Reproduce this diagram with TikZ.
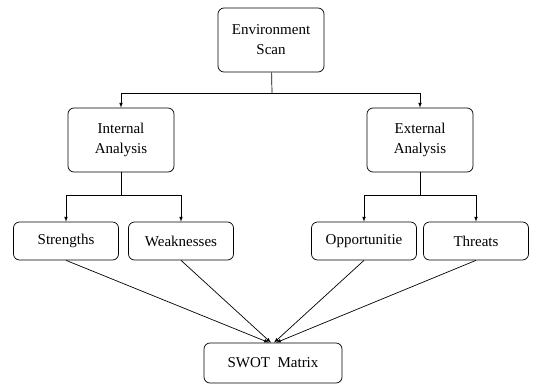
\documentclass[tikz,border=0pt]{standalone}
\usepackage{fontspec}
\setmainfont{Liberation Serif}
\newfontfamily\boxfont{Liberation Serif}
\tikzset{
  box/.style={draw,rounded corners=6pt,line width=0.7pt,align=center,inner sep=0pt,font=\boxfont\fontsize{15}{20}\selectfont},
  bigbox/.style={box,minimum width=106pt,minimum height=64pt},
  smallbox/.style={box,minimum width=105pt,minimum height=38pt}
}
\begin{document}
\begin{tikzpicture}[>=latex,x=1pt,y=-1pt,line width=0.7pt]

      \useasboundingbox (0,0) rectangle (557,383);
      \path (271,40) node [bigbox](env_scan){Environment\\Scan};
      \path (121,140) node [bigbox](int_an){Internal\\Analysis};
      \path (420,140) node [bigbox](ext_an){External\\Analysis};
      \path (66,241) node [smallbox](str){Strengths};
      \path (181,241) node [smallbox](weak){Weaknesses};
      \path (364,241) node [smallbox](opp){Opportunitie};
      \path (476,241) node [smallbox](thr){Threats};
      \path (273,363) node [box,minimum width=138pt,minimum height=40pt](swot){SWOT\ \ Matrix};
      % forks
      \coordinate (fork_top) at (272,93);
      \coordinate (fork_int) at (121,195);
      \coordinate (fork_ext) at (420,195);
      \draw (env_scan) -- (fork_top);
      \draw[->] (fork_top) -| (int_an);
      \draw[->] (fork_top) -| (ext_an);
      \draw (int_an) -- (fork_int);
      \draw[->] (fork_int) -| (str);
      \draw[->] (fork_int) -| (weak);
      \draw (ext_an) -- (fork_ext);
      \draw[->] (fork_ext) -| (opp);
      \draw[->] (fork_ext) -| (thr);
      \draw[->] (str.south) -- ([xshift=-4pt]swot.north);
      \draw[->] (weak.south) -- ([xshift=-2pt]swot.north);
      \draw[->] (opp.south) -- ([xshift=1pt]swot.north);
      \draw[->] (thr.south) -- ([xshift=3pt]swot.north);

    \end{tikzpicture}
\end{document}
